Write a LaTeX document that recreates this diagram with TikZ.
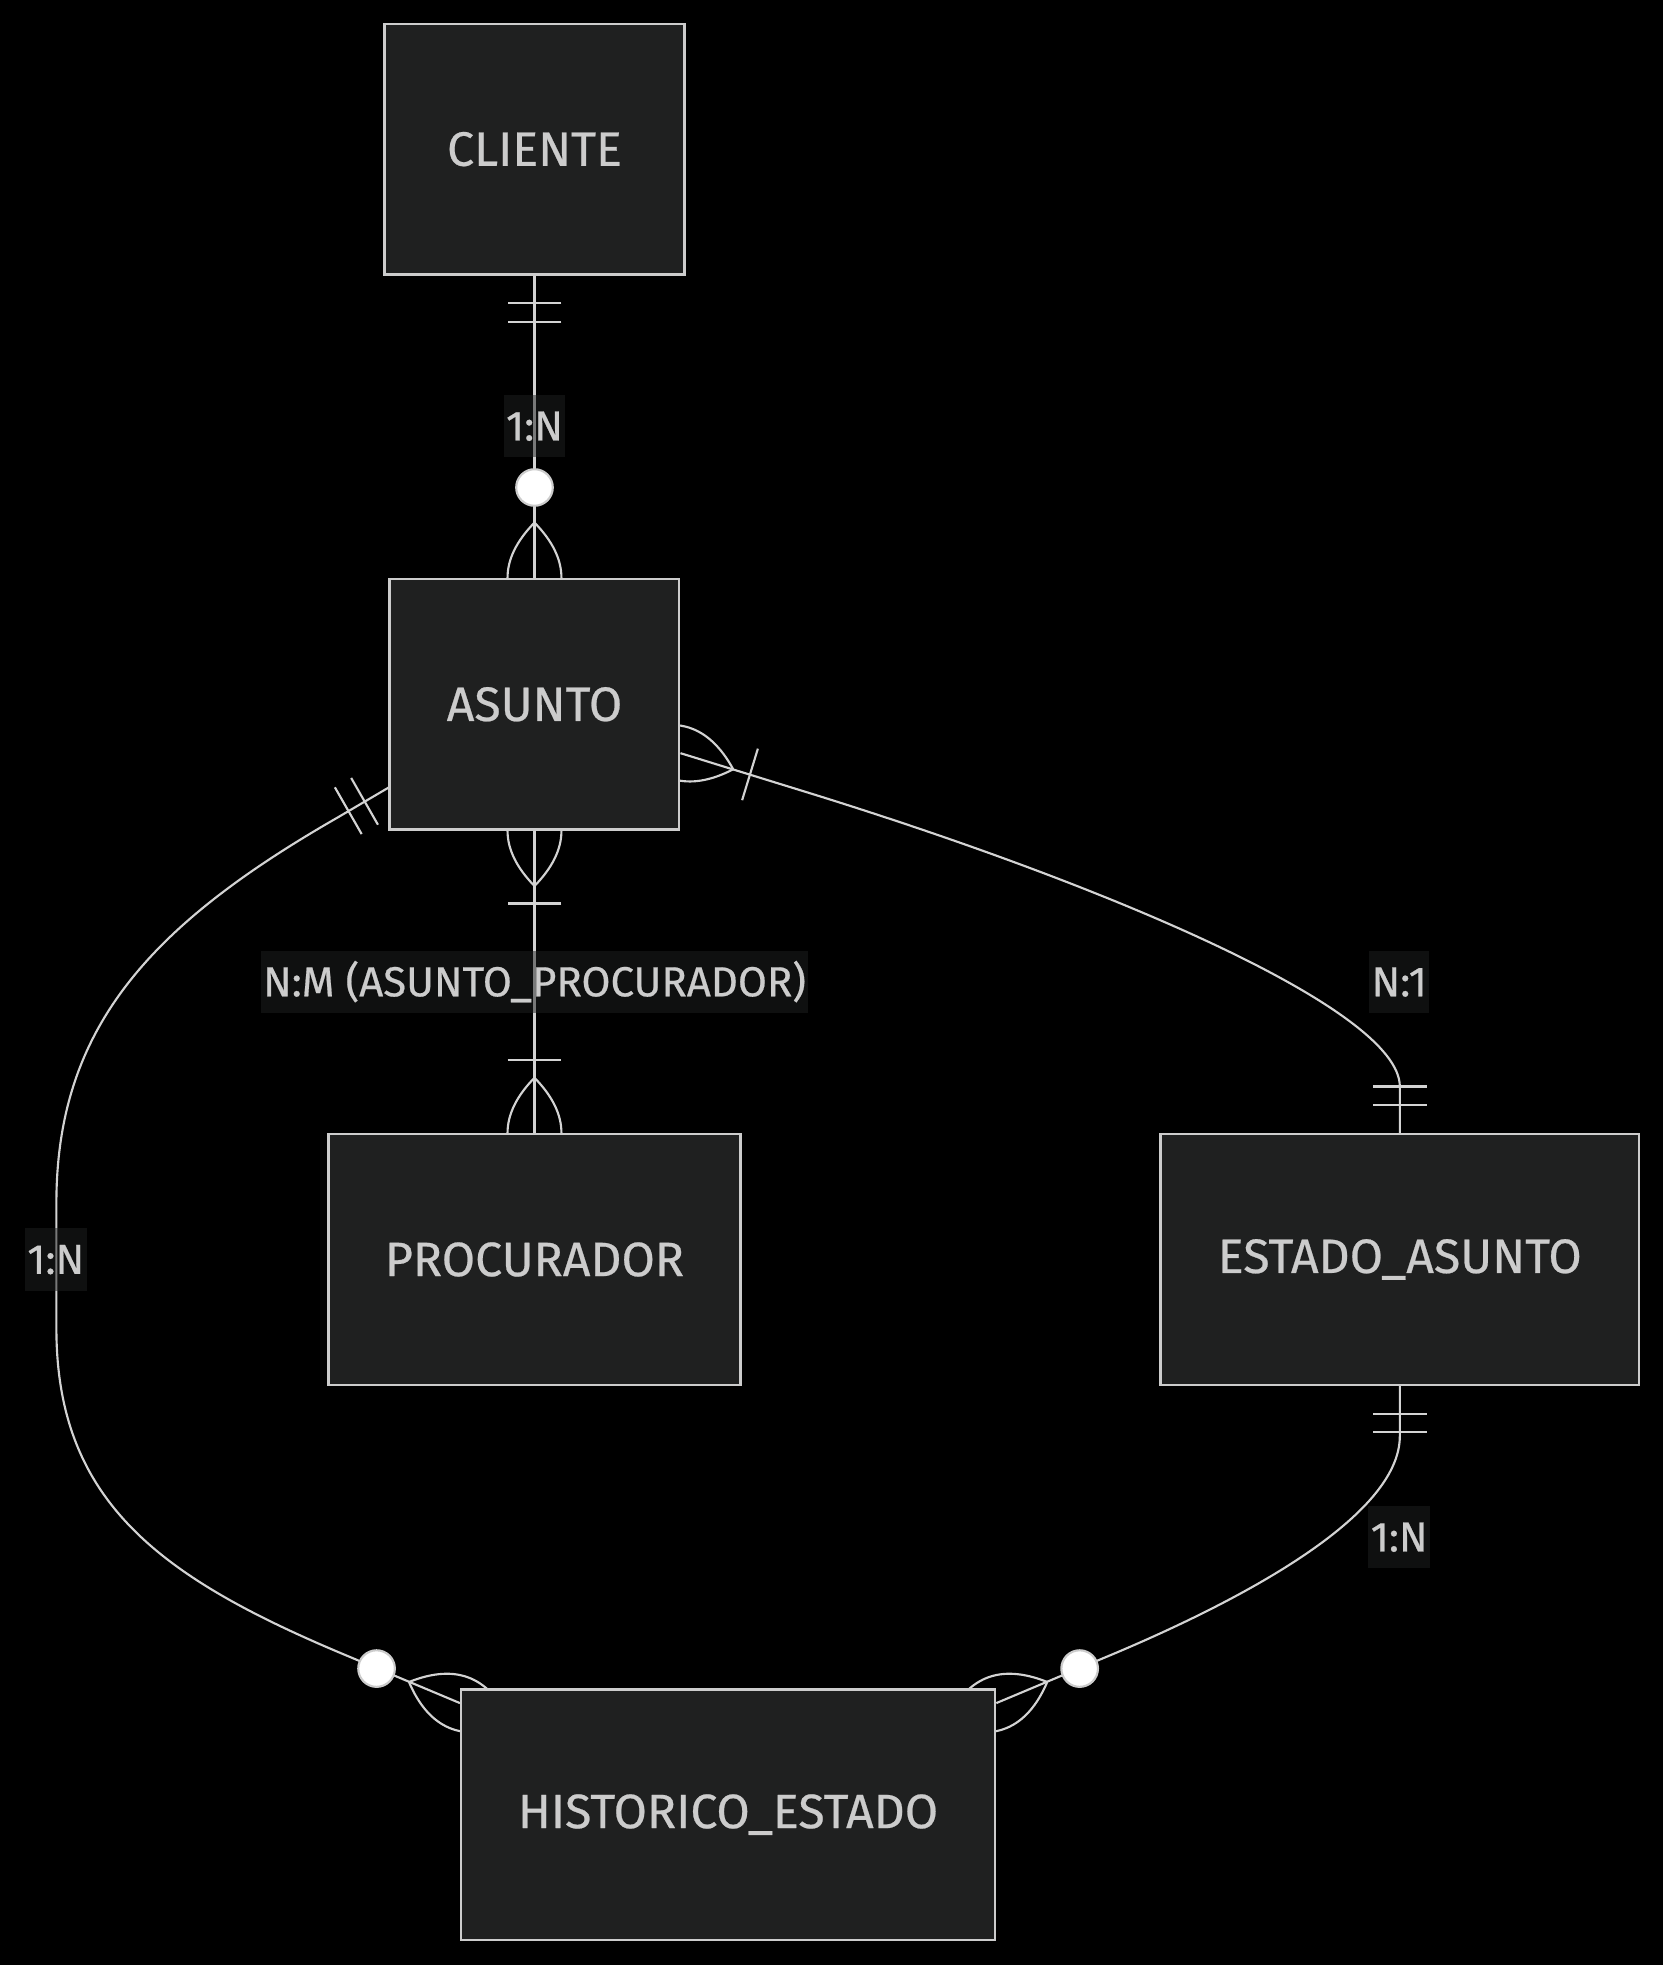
\documentclass[tikz,border=0pt]{standalone}
\usepackage{fontspec}
\setmainfont{Fira Sans}
\newfontfamily\efont{Fira Sans}[FakeBold=0.5]
\usetikzlibrary{calc}
\definecolor{boxfill}{HTML}{1F2020}
\definecolor{boxline}{HTML}{CCCCCC}
\definecolor{txt}{HTML}{CCCCCC}
\definecolor{edgec}{HTML}{D3D3D3}
\pgfdeclarelayer{bglayer}
\pgfdeclarelayer{edgelayer}
\pgfsetlayers{bglayer,edgelayer,main}
\newcommand\lensshape{(44,0) .. controls (14.67,28.67) and (-14.67,28.67) .. (-44,0)
      .. controls (-14.67,-28.67) and (14.67,-28.67) .. (44,0)}
\tikzset{
  edge/.style={draw=edgec, line width=1.7pt},
  entity/.style={draw=boxline, fill=boxfill, line width=2pt, minimum height=200pt,
    inner sep=0pt, text=txt, font=\efont\fontsize{38.5}{42}\selectfont},
  lbl/.style={fill=boxfill, fill opacity=0.5, text opacity=1, text=txt,
    font=\efont\fontsize{33.5}{36}\selectfont, inner xsep=2pt, inner ysep=13.5pt,
    text height=23pt, text depth=0pt},
  onlyone/.pic={\draw[edge] (22,-21.5) -- (22,21.5) (37,-21.5) -- (37,21.5);},
  onemore/.pic={\draw[edge] \lensshape; \draw[edge] (58,-21.5) -- (58,21.5);},
  zeromore/.pic={\draw[edge] \lensshape; \draw[edge, draw=boxline, fill=white] (72,0) circle[radius=14.6pt];}
}
\begin{document}
\begin{tikzpicture}[x=1pt, y=-1pt]
\begin{pgfonlayer}{bglayer}
\fill[black] (0,0) rectangle (1327,1568);
\end{pgfonlayer}
\useasboundingbox (0,0) rectangle (1327,1568);

% entities
\node[entity, minimum width=239pt] (cliente) at (426.5,119) {CLIENTE};
\node[entity, minimum width=231pt] (asunto) at (426.5,562) {ASUNTO};
\node[entity, minimum width=329pt] (procurador) at (426.5,1005) {PROCURADOR};
\node[entity, minimum width=382pt] (estado) at (1117,1005) {ESTADO\_ASUNTO};
\node[entity, minimum width=426pt] (historico) at (581,1448) {HISTORICO\_ESTADO};

\coordinate (e5) at ($(asunto.east)+(0,39)$);
\coordinate (e7) at ($(asunto.west)+(0,66.5)$);
\coordinate (e8) at ($(historico.west)+(0,-89)$);
\coordinate (e10) at ($(historico.east)+(0,-89)$);

\begin{pgfonlayer}{edgelayer}
% CLIENTE - ASUNTO
\draw[edge] (cliente.south) -- (asunto.north);
\pic[rotate=-90] at (cliente.south) {onlyone};
\pic[rotate=90] at (asunto.north) {zeromore};
% ASUNTO - PROCURADOR
\draw[edge] (asunto.south) -- (procurador.north);
\pic[rotate=-90] at (asunto.south) {onemore};
\pic[rotate=90] at (procurador.north) {onemore};
% ASUNTO - ESTADO_ASUNTO
\draw[edge] (e5) -- (640,631) .. controls (880,705) and (1117,805) .. (1117,867) -- (estado.north);
\pic[rotate=-17] at (e5) {onemore};
\pic[rotate=90] at (estado.north) {onlyone};
% ASUNTO - HISTORICO_ESTADO
\draw[edge] (e7) -- (270,652) .. controls (120,738) and (45,820) .. (45,960) -- (45,1060)
  .. controls (45,1200) and (130,1260.2) .. (280,1322.5) -- (e8);
\pic[rotate=209.8] at (e7) {onlyone};
\pic[rotate=157.5] at (e8) {zeromore};
% ESTADO_ASUNTO - HISTORICO_ESTADO
\draw[edge] (estado.south) -- (1117,1146) .. controls (1117,1210) and (990,1277.7) .. (880,1323.3) -- (e10);
\pic[rotate=-90] at (estado.south) {onlyone};
\pic[rotate=22.5] at (e10) {zeromore};
\end{pgfonlayer}

% labels
\node[lbl] (l1) at (426.5,340) {1:N};
\node[lbl] (l2) at (426.5,783.5) {N:M (ASUNTO\_PROCURADOR)};
\node[lbl] (l3) at (1116.5,783.5) {N:1};
\node[lbl] (l4) at (44.5,1005) {1:N};
\node[lbl] (l5) at (1116.5,1226.5) {1:N};
\end{tikzpicture}
\end{document}
